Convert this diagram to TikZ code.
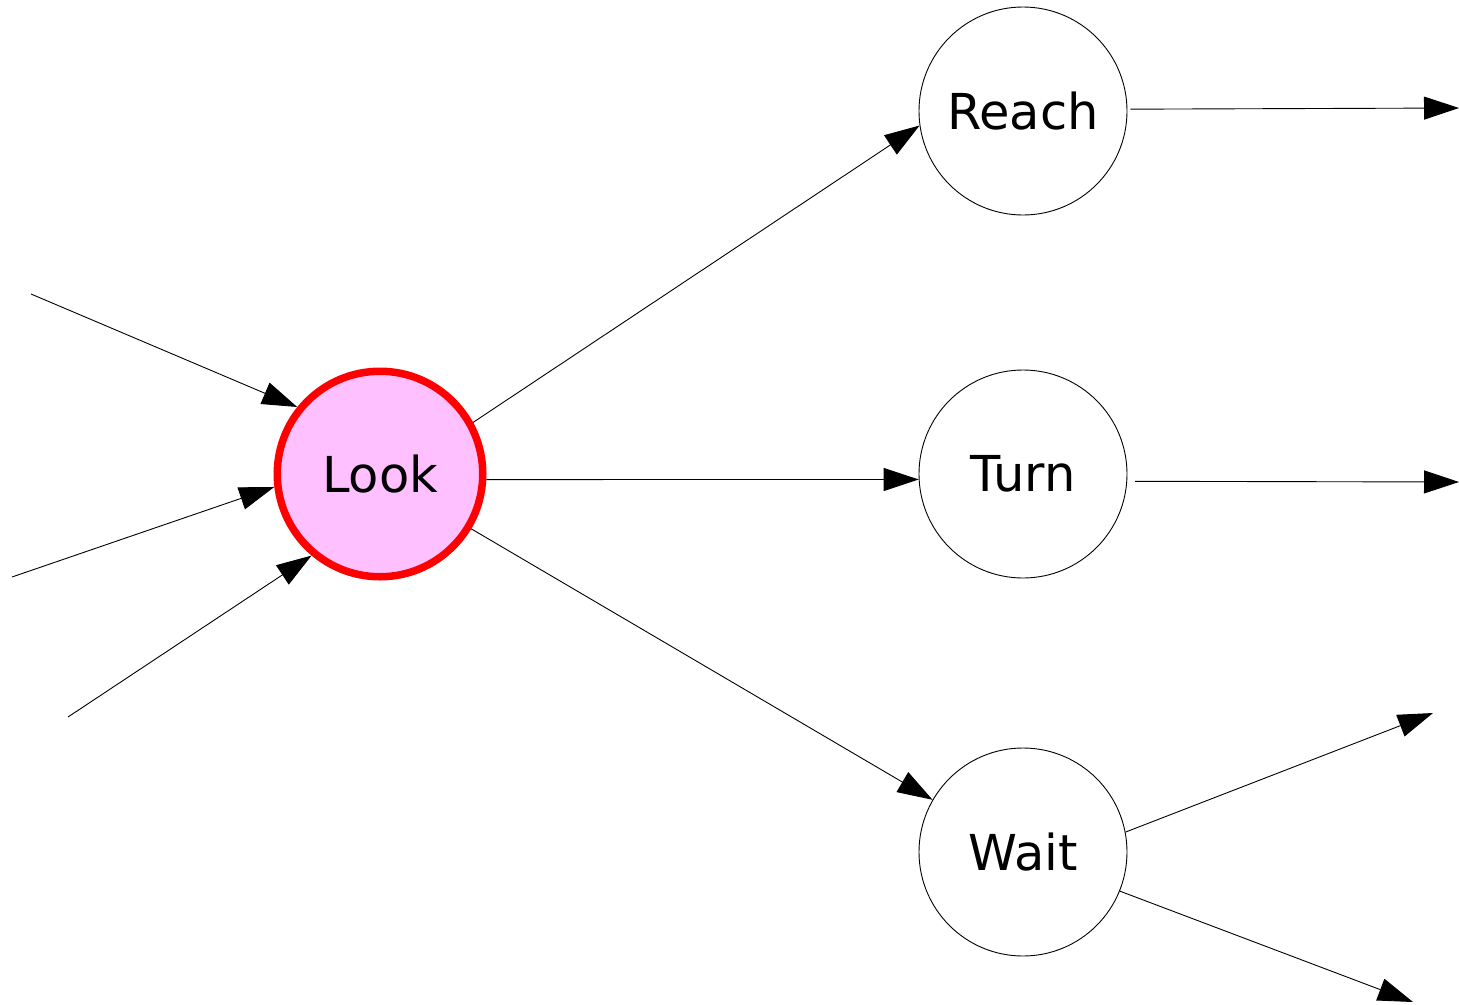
\documentclass[tikz,border=0pt]{standalone}
\usepackage{fontspec}
\setmainfont{DejaVu Sans}
\usetikzlibrary{arrows.meta}
\definecolor{lookfill}{RGB}{255,192,255}
\begin{document}
\begin{tikzpicture}[x=1pt,y=-1pt,
  state/.style={circle,draw=black,line width=0.9pt,minimum size=208pt,inner sep=0pt,font=\fontsize{49.5}{55}\selectfont},
  active/.style={state,draw=red,fill=lookfill,line width=7.5pt,minimum size=205.5pt},
  edge/.style={line width=0.9pt,-{Triangle[length=35pt,width=23pt]}}]
\useasboundingbox (0,0) rectangle (1459,1004);
\node[active] (look) at (380,474) {Look};
\node[state] (reach) at (1023,111) {Reach};
\node[state] (turn) at (1023,474) {Turn};
\node[state] (wait) at (1023,852) {Wait};
\coordinate (i1) at (31,294);
\coordinate (i2) at (12,577);
\coordinate (i3) at (68,717);
\coordinate (o1) at (1459,108);
\coordinate (o2) at (1459,482);
\coordinate (o3) at (1433,713);
\coordinate (o4) at (1413,1002);
\draw[edge] (i1) -- (look.141);
\draw[edge] (i2) -- (look.187);
\draw[edge] (i3) -- (look.230);
\draw[edge] (look.29) -- (reach.188);
\draw[edge] (look.-3) -- (turn.183);
\draw[edge] (look.-31) -- (wait.150);
\draw[edge,shorten <=3pt] (reach.1.6) -- (o1);
\draw[edge,shorten <=8pt] (turn.-4) -- (o2);
\draw[edge] (wait.11) -- (o3);
\draw[edge] (wait.-22.6) -- (o4);
\end{tikzpicture}
\end{document}
